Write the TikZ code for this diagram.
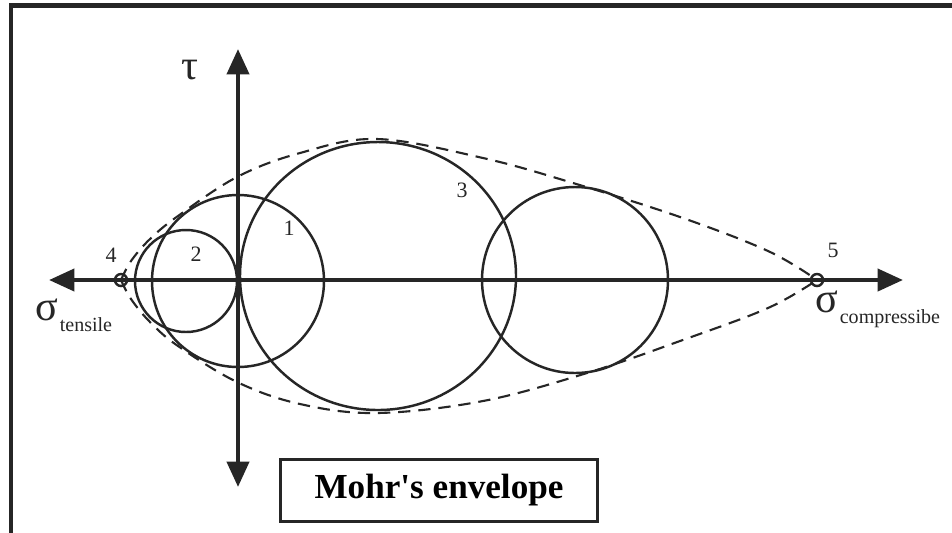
\documentclass[tikz,border=0pt]{standalone}
\usepackage{fontspec}
\setmainfont{Liberation Serif}
\usepackage{tikz}
\usetikzlibrary{arrows.meta}
\definecolor{inkdark}{RGB}{38, 38, 38}
\tikzset{
    axis/.style  ={{Triangle[length=14.5pt, width=12.5pt]}-{Triangle[length=14.5pt, width=12.5pt]},
                   line width=2.5pt, draw=inkdark},
    mcirc/.style ={line width=1.4pt, draw=inkdark},
    env/.style   ={dash pattern=on 7pt off 4.5pt, line width=1.2pt, draw=inkdark},
    frame/.style ={line width=2.3pt, draw=inkdark},
    num/.style   ={font=\fontsize{12.5}{15}\selectfont, inner sep=0pt, text=inkdark},
    sym/.style   ={font=\fontsize{24}{28}\selectfont, inner sep=0pt, text=inkdark},
    title/.style ={draw=inkdark, line width=1.7pt, fill=white, inner sep=0pt,
                   minimum width=6.36cm, minimum height=1.24cm,
                   font=\fontsize{20}{24}\selectfont\bfseries}
}
\newcommand{\subtxt}[1]{\raisebox{-6.5pt}{\fontsize{11.4}{13}\selectfont #1}}

\begin{document}
\begin{tikzpicture}[x=0.02cm, y=-0.02cm]
  \useasboundingbox (0,0) rectangle (952,532);
  \fill[white] (0,0) rectangle (952,532);
  \draw[frame] (11,5.5) rectangle (980,560);

  % axes
  \coordinate (xl) at (49,280);
  \coordinate (xr) at (903,280);
  \coordinate (yt) at (238,49);
  \coordinate (yb) at (238,487);
  \draw[axis] (xl) -- (xr);
  \draw[axis] (yb) -- (yt);

  % stress circles
  \coordinate (c1) at (238,281);
  \coordinate (c2) at (186,281);
  \coordinate (c3) at (378,276);
  \coordinate (c4) at (575,280);
  \draw[mcirc] (c1) circle[radius=86];
  \draw[mcirc] (c2) circle[radius=51];
  \draw[mcirc] (c3) ellipse[x radius=138, y radius=134];
  \draw[mcirc] (c4) circle[radius=93];

  % envelope
  \coordinate (pt) at (121,280);
  \coordinate (pc) at (817,280);
  \draw[env] plot[smooth, tension=0.6] coordinates {(121,280) (131,261) (150,239)
      (178,216) (237,177) (300,153) (377,139) (483,158) (573,183) (680,217)
      (768,251) (817,280)};
  \draw[env] plot[smooth, tension=0.6] coordinates {(121,280) (131,299) (150,322)
      (178,346) (237,382) (300,404) (377,413) (483,401) (587,373) (680,341)
      (768,308) (817,280)};
  \draw[mcirc] (pt) circle[radius=6];
  \draw[mcirc] (pc) circle[radius=6];

  % labels
  \node[num] (n4) at (111,255) {4};
  \node[num] (n2) at (196,254) {2};
  \node[num] (n1) at (289,228) {1};
  \node[num] (n3) at (462,190) {3};
  \node[num] (n5) at (833,250) {5};
  \node[sym] (tau) at (190,70) {τ};
  \node[sym, anchor=base west] (sigt) at (35,320) {σ\kern1pt\subtxt{tensile}};
  \node[sym, anchor=base west] (sigc) at (815,312) {σ\kern1pt\subtxt{compressibe}};

  \node[title] (ttl) at (439,490) {Mohr\textquotesingle s envelope};
\end{tikzpicture}
\end{document}
